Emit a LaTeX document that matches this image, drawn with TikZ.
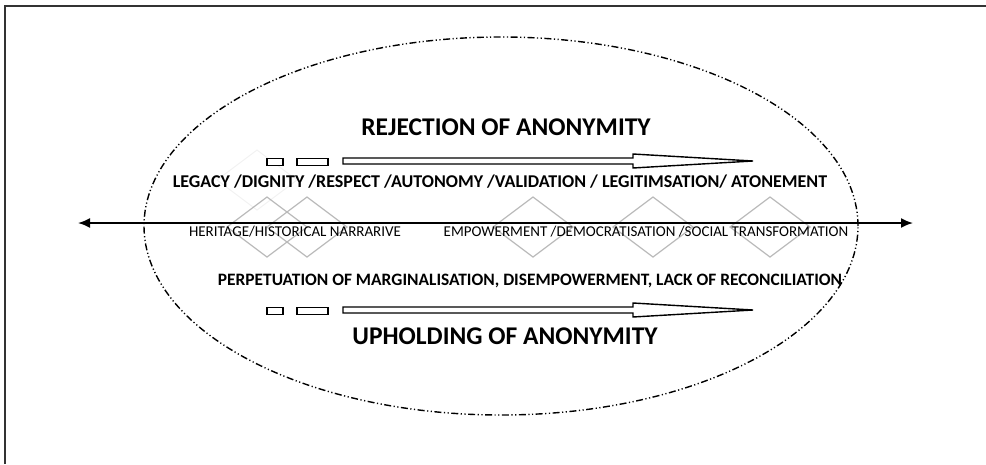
\documentclass[tikz,border=0pt]{standalone}
\usepackage{fontspec}
\setmainfont{Carlito}
\usetikzlibrary{arrows.meta,shapes.geometric}

\begin{document}
\begin{tikzpicture}[x=1pt, y=-1pt, inner sep=0, outer sep=0,
  diam/.style={diamond, draw=gray!55, line width=1.2pt,
    minimum width=80pt, minimum height=60pt},
  stripe/.style={draw=black, fill=white, line width=1.4pt},
  oval/.style={draw=black, line width=1.4pt,
    dash pattern=on 7pt off 2.5pt on 1.2pt off 2.5pt on 1.2pt off 2.5pt}]
  \useasboundingbox (0,0) rectangle (986,464);

  % frame
  \draw[gray!40!black, line width=2pt] (5,464) -- (5,6) -- (986,6);

  % oval
  \node[ellipse, oval, minimum width=714pt, minimum height=378pt] (field) at (501,226) {};

  % diamonds
  \node[diamond, draw=gray!10, line width=1pt,
    minimum width=80pt, minimum height=60pt] (ghost) at (257,180) {};
  \node[diam] (d1) at (267,227) {};
  \node[diam] (d2) at (307,227) {};
  \node[diam] (d3) at (533,227) {};
  \node[diam] (d4) at (653,227) {};
  \node[diam] (d5) at (770,227) {};

  % axis
  \coordinate (lend) at (78,223);
  \coordinate (rend) at (913,223);
  \draw[{Latex[length=12pt,width=10pt]}-{Latex[length=12pt,width=10pt]}, line width=1.8pt] (lend) -- (rend);

  % top
  \node[font=\fontsize{25.5}{27}\selectfont\bfseries] (reject) at (506,127) {REJECTION OF ANONYMITY};
  \coordinate (tarr) at (267,155);
  \draw[stripe] ([yshift=-3.5pt]tarr) rectangle ++(16,7);
  \draw[stripe] ([xshift=30pt, yshift=-3.5pt]tarr) rectangle ++(31,7);
  \draw[stripe] ([xshift=76pt, yshift=-3pt]tarr) -- ++(290,0) -- ++(0,-4) -- ++(120,7)
    -- ++(-120,7) -- ++(0,-4) -- ++(-290,0) -- cycle;
  \node[font=\fontsize{18}{20}\selectfont\bfseries] (gains) at (500,182)
    {LEGACY /DIGNITY /RESPECT /AUTONOMY /VALIDATION / LEGITIMSATION/ ATONEMENT};

  % middle
  \node[font=\fontsize{15}{17}\selectfont] (heritage) at (295,232) {HERITAGE/HISTORICAL NARRARIVE};
  \node[font=\fontsize{15}{17}\selectfont] (empower) at (646,232) {EMPOWERMENT /DEMOCRATISATION /SOCIAL TRANSFORMATION};

  % bottom
  \node[font=\fontsize{17.4}{19}\selectfont\bfseries] (losses) at (530,281)
    {PERPETUATION OF MARGINALISATION, DISEMPOWERMENT, LACK OF RECONCILIATION};
  \coordinate (barr) at (267,304);
  \draw[stripe] ([yshift=-3.5pt]barr) rectangle ++(16,7);
  \draw[stripe] ([xshift=30pt, yshift=-3.5pt]barr) rectangle ++(31,7);
  \draw[stripe] ([xshift=76pt, yshift=-3pt]barr) -- ++(290,0) -- ++(0,-4) -- ++(120,7)
    -- ++(-120,7) -- ++(0,-4) -- ++(-290,0) -- cycle;
  \node[font=\fontsize{25.5}{27}\selectfont\bfseries] (uphold) at (505,336) {UPHOLDING OF ANONYMITY};
\end{tikzpicture}
\end{document}
